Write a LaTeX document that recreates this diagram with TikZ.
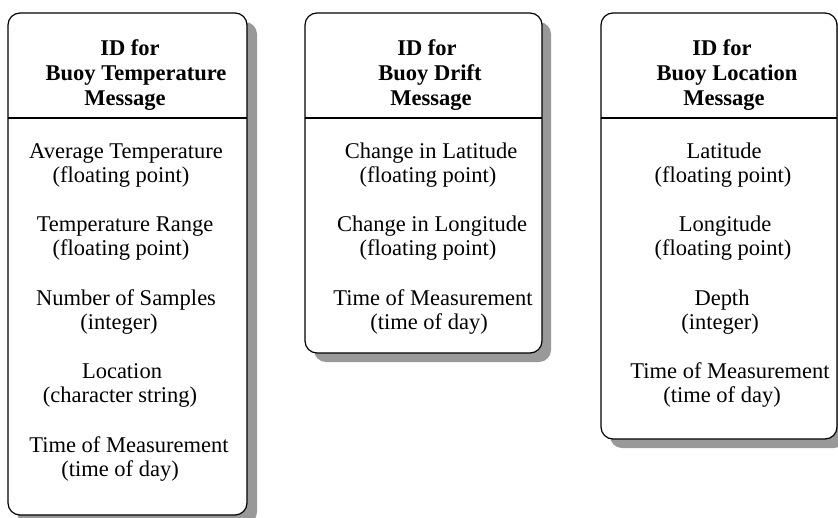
\documentclass[tikz,border=0pt]{standalone}
\usepackage{fontspec}
\setmainfont{Liberation Serif}
\newcommand\mybodyfont{\fontsize{22.5}{24}\selectfont}
\newcommand\mytitlefont{\fontsize{22.5}{25}\selectfont\bfseries}
\definecolor{shadowgray}{HTML}{999999}
\tikzset{
  card/.style={draw=black, line width=1.2pt, fill=white, rounded corners=12pt},
  cardshadow/.style={fill=shadowgray, rounded corners=12pt},
  divider/.style={draw=black, line width=1.2pt},
  ttl/.style={font=\mytitlefont, anchor=base, inner sep=0pt},
  txt/.style={font=\mybodyfont, anchor=base, inner sep=0pt}
}
\begin{document}
\begin{tikzpicture}[x=1pt, y=-1pt]
\useasboundingbox (0,0) rectangle (838,517);
% shadows
\fill[cardshadow] (17,22) rectangle (257,524);
\fill[cardshadow] (314,22) rectangle (551,362);
\fill[cardshadow] (610,22) rectangle (846,448);
% cards
\draw[card] (8,13) rectangle (247,515);
\draw[card] (305,13) rectangle (542,353);
\draw[card] (601,13) rectangle (837,439);
% dividers
\draw[divider] (8,118) -- (247,118);
\draw[divider] (305,118) -- (542,118);
\draw[divider] (601,118) -- (837,118);

% Box 1
\node[ttl] (a1) at (130,55) {ID for};
\node[ttl] (a2) at (136,80) {Buoy Temperature};
\node[ttl] (a3) at (125,105) {Message};
\node[txt] (a11) at (126,158) {Average Temperature};
\node[txt] (a12) at (121,182) {(floating point)};
\node[txt] (a21) at (125,231.5) {Temperature Range};
\node[txt] (a22) at (121,255.5) {(floating point)};
\node[txt] (a31) at (126,305) {Number of Samples};
\node[txt] (a32) at (119,329) {(integer)};
\node[txt] (a41) at (122,378.5) {Location};
\node[txt] (a42) at (120,402.5) {(character string)};
\node[txt] (a51) at (129,452) {Time of Measurement};
\node[txt] (a52) at (120,476) {(time of day)};

% Box 2
\node[ttl] (b1) at (427,55) {ID for};
\node[ttl] (b2) at (430,80) {Buoy Drift};
\node[ttl] (b3) at (431,105) {Message};
\node[txt] (b11) at (431,158) {Change in Latitude};
\node[txt] (b12) at (428,182) {(floating point)};
\node[txt] (b21) at (432,231.5) {Change in Longitude};
\node[txt] (b22) at (428,255.5) {(floating point)};
\node[txt] (b31) at (433,305) {Time of Measurement};
\node[txt] (b32) at (429,329) {(time of day)};

% Box 3
\node[ttl] (c1) at (722,55) {ID for};
\node[ttl] (c2) at (727,80) {Buoy Location};
\node[ttl] (c3) at (724,105) {Message};
\node[txt] (c11) at (724,158) {Latitude};
\node[txt] (c12) at (723,182) {(floating point)};
\node[txt] (c21) at (725,231.5) {Longitude};
\node[txt] (c22) at (723,255.5) {(floating point)};
\node[txt] (c31) at (722,305) {Depth};
\node[txt] (c32) at (720,329) {(integer)};
\node[txt] (c41) at (730,378.5) {Time of Measurement};
\node[txt] (c42) at (722,402.5) {(time of day)};
\end{tikzpicture}
\end{document}
